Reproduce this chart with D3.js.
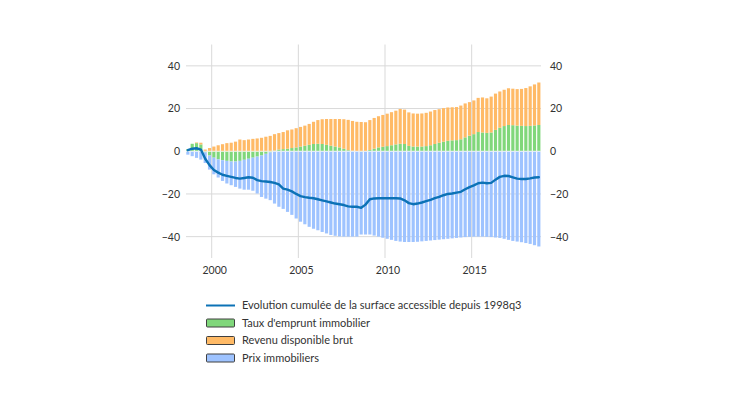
<!DOCTYPE html>
<html>
<head>
<meta charset="utf-8">
<script src="https://cdn.jsdelivr.net/npm/d3@7"></script>
<style>
  html, body { margin: 0; padding: 0; background: #fff; }
  svg { display: block; }
  text { font-family: Lato, "Open Sans", sans-serif; fill: #333; }
</style>
</head>
<body>
<svg id="chart" width="730" height="410"></svg>
<script>
// ---- Data (quarterly, 1998q3 .. 2018q4) ----
const startYear = 1998, startQuarter = 3, nQuarters = 82;
const quarters = Array.from({length: nQuarters}, (_, i) => {
  const q = startQuarter - 1 + i;
  return (startYear + Math.floor(q / 4)) + "q" + (q % 4 + 1);
});

// Contribution: Taux d'emprunt immobilier
const taux = [1.0,3.5,3.8,3.2,-0.5,-2.0,-3.0,-3.8,-4.2,-4.5,
  -4.8,-4.8,-4.5,-4.0,-3.5,-3.0,-2.5,-2.0,-1.2,-0.5,
  0.3,0.8,1.0,1.2,1.5,1.8,2.2,2.6,3.0,3.4,
  3.5,3.4,3.0,2.6,2.2,1.8,1.2,0.5,0.2,0.0,
  -0.2,0.1,0.6,1.2,1.8,2.1,2.4,2.8,3.2,3.5,
  3.4,2.5,2.2,2.2,2.2,2.4,2.8,3.4,4.0,4.5,
  4.9,5.1,5.2,5.6,6.5,7.3,8.0,9.0,8.8,8.6,
  8.8,10.0,11.0,11.8,12.3,12.2,12.0,11.9,11.8,11.9,
  12.1,12.3];

// Contribution: Revenu disponible brut
const revenu = [0.0,0.0,0.3,0.8,0.8,1.5,2.2,2.8,3.3,3.8,
  4.0,4.5,5.5,5.2,5.5,5.8,6.0,6.3,6.8,7.2,
  7.7,7.7,8.0,8.6,8.7,9.0,9.2,9.4,9.8,10.4,
  11.1,11.6,12.1,12.5,12.9,13.3,13.8,14.2,14.0,13.8,
  13.7,13.5,14.0,14.4,14.6,14.9,15.2,15.5,15.8,16.3,
  16.1,15.7,15.5,15.4,15.5,15.6,15.8,15.9,15.7,15.7,
  15.6,15.5,15.5,15.8,15.9,15.7,15.8,16.0,16.4,16.2,
  16.8,17.0,17.0,17.0,17.2,17.1,17.1,17.3,17.8,18.5,
  19.2,19.9];

// Contribution: Prix immobiliers
const prix = [-1.6,-2.3,-3.1,-3.9,-5.0,-6.6,-7.8,-8.5,-9.7,-10.6,
  -11.1,-11.9,-13.0,-14.0,-14.5,-15.5,-17.3,-19.4,-21.0,-22.4,
  -24.5,-26.0,-27.0,-28.4,-29.8,-31.5,-33.0,-34.2,-35.4,-36.3,
  -37.0,-37.8,-38.5,-39.2,-39.6,-39.9,-40.0,-40.0,-40.0,-40.0,
  -38.8,-39.0,-39.0,-39.5,-40.0,-40.5,-41.0,-41.5,-42.0,-42.3,
  -42.5,-42.5,-42.5,-42.4,-42.2,-42.0,-41.8,-41.6,-41.4,-41.2,
  -41.0,-40.8,-40.6,-40.4,-40.2,-40.1,-40.0,-40.0,-40.0,-40.1,
  -40.2,-40.4,-40.6,-41.0,-41.5,-42.0,-42.3,-42.6,-43.0,-43.4,
  -44.0,-44.6];

// Evolution cumulée de la surface accessible depuis 1998q3
const surface = [0.5,1.2,1.4,0.8,-3.5,-6.5,-8.8,-10.0,-11.0,-11.5,
  -12.0,-12.5,-12.8,-12.5,-12.2,-12.4,-13.5,-14.0,-14.2,-14.4,
  -14.8,-15.5,-17.5,-18.0,-18.8,-20.0,-21.0,-21.5,-21.8,-22.0,
  -22.5,-23.0,-23.5,-24.0,-24.5,-24.8,-25.2,-25.8,-26.0,-26.0,
  -26.5,-25.0,-22.5,-22.1,-22.0,-22.0,-22.0,-22.0,-22.0,-22.1,
  -23.0,-24.3,-24.8,-24.5,-24.0,-23.4,-22.8,-22.0,-21.4,-20.6,
  -20.0,-19.8,-19.4,-19.0,-17.8,-16.8,-16.0,-15.0,-14.7,-15.0,
  -14.8,-13.3,-12.0,-11.5,-11.6,-12.2,-12.8,-13.0,-13.0,-12.7,
  -12.3,-12.2];

const yTicks = [-40, -20, 0, 20, 40];
const xTickYears = [2000, 2005, 2010, 2015];

const seriesKeys = ["taux", "revenu", "prix"];
const seriesLabels = {
  line: "Evolution cumulée de la surface accessible depuis 1998q3",
  taux: "Taux d'emprunt immobilier",
  revenu: "Revenu disponible brut",
  prix: "Prix immobiliers"
};
const colors = { taux: "#80D77B", revenu: "#FFBA66", prix: "#9EC3FF", line: "#0C72B6" };

// ---- Chart ----
const svg = d3.select("#chart");
const x = d3.scaleBand().domain(quarters).range([185.7, 541]).paddingInner(0.27).paddingOuter(0.135);
const y = d3.scaleLinear().domain([-50, 50]).range([258, 44.5]);

const rows = quarters.map((q, i) => ({ q, taux: taux[i], revenu: revenu[i], prix: prix[i] }));
const stacked = d3.stack().keys(seriesKeys).offset(d3.stackOffsetDiverging)(rows);

// horizontal gridlines
svg.append("g").selectAll("line").data(yTicks).join("line")
  .attr("x1", 186).attr("x2", 541)
  .attr("y1", d => y(d)).attr("y2", d => y(d))
  .attr("stroke", "#d9d9d9").attr("stroke-width", 1);

// vertical gridlines at years
const xYear = yr => x(yr + "q1") - (x.step() - x.bandwidth()) / 2;
svg.append("g").selectAll("line").data(xTickYears).join("line")
  .attr("x1", d => xYear(d)).attr("x2", d => xYear(d))
  .attr("y1", 44.5).attr("y2", 258)
  .attr("stroke", "#d9d9d9").attr("stroke-width", 1);

// bars
svg.append("g").selectAll("g").data(stacked).join("g")
  .attr("fill", d => colors[d.key])
  .selectAll("rect").data(d => d).join("rect")
  .attr("x", d => x(d.data.q))
  .attr("width", x.bandwidth())
  .attr("y", d => y(Math.max(d[0], d[1])))
  .attr("height", d => Math.abs(y(d[0]) - y(d[1])));

// white separation at zero
svg.append("line").attr("x1", 186).attr("x2", 541)
  .attr("y1", y(0)).attr("y2", y(0))
  .attr("stroke", "#ffffff").attr("stroke-width", 1.2).attr("opacity", 0.8);

// line
const line = d3.line().x((d, i) => x(quarters[i]) + x.bandwidth() / 2).y(d => y(d)).curve(d3.curveLinear);
svg.append("path").datum(surface)
  .attr("d", line).attr("fill", "none")
  .attr("stroke", colors.line).attr("stroke-width", 2.4)
  .attr("stroke-linejoin", "round").attr("stroke-linecap", "round");

// left axis labels
const axisLeft = d3.axisLeft(y).tickValues(yTicks).tickSize(0).tickPadding(0).tickFormat(d3.format("d"));
const gl = svg.append("g").attr("transform", "translate(180,0)").call(axisLeft);
gl.select(".domain").remove();
gl.selectAll("text").attr("font-size", 10.5).attr("fill", "#333").attr("font-family", "Lato, sans-serif");

// right axis labels
const axisRight = d3.axisRight(y).tickValues(yTicks).tickSize(0).tickPadding(0).tickFormat(d3.format("d"));
const gr = svg.append("g").attr("transform", "translate(550,0)").call(axisRight);
gr.select(".domain").remove();
gr.selectAll("text").attr("font-size", 10.5).attr("fill", "#333").attr("font-family", "Lato, sans-serif");

// bottom axis labels
const xLab = d3.scaleLinear().domain([2000, 2015]).range([xYear(2000) + 2.5, xYear(2015) + 2.5]);
const axisBottom = d3.axisBottom(xLab).tickValues(xTickYears).tickSize(0).tickPadding(0).tickFormat(d3.format("d"));
const gb = svg.append("g").attr("transform", "translate(0,266.5)").call(axisBottom);
gb.select(".domain").remove();
gb.selectAll("text").attr("font-size", 10.5).attr("fill", "#333").attr("font-family", "Lato, sans-serif");

// legend
const lg = svg.append("g").attr("transform", "translate(206,0)");
lg.append("line").attr("x1", 0).attr("x2", 29).attr("y1", 305.5).attr("y2", 305.5)
  .attr("stroke", colors.line).attr("stroke-width", 2);
lg.append("text").attr("x", 36).attr("y", 305.5).attr("dy", "0.35em")
  .attr("font-size", 11).text(seriesLabels.line);
const legendItems = ["taux", "revenu", "prix"];
legendItems.forEach((k, i) => {
  const cy = 323 + i * 17.5;
  lg.append("rect").attr("x", 0.5).attr("y", cy - 4).attr("width", 28).attr("height", 8)
    .attr("rx", 1).attr("fill", colors[k]).attr("stroke", "#404040").attr("stroke-width", 1);
  lg.append("text").attr("x", 36).attr("y", cy).attr("dy", "0.35em")
    .attr("font-size", 11).text(seriesLabels[k]);
});
</script>
</body>
</html>
